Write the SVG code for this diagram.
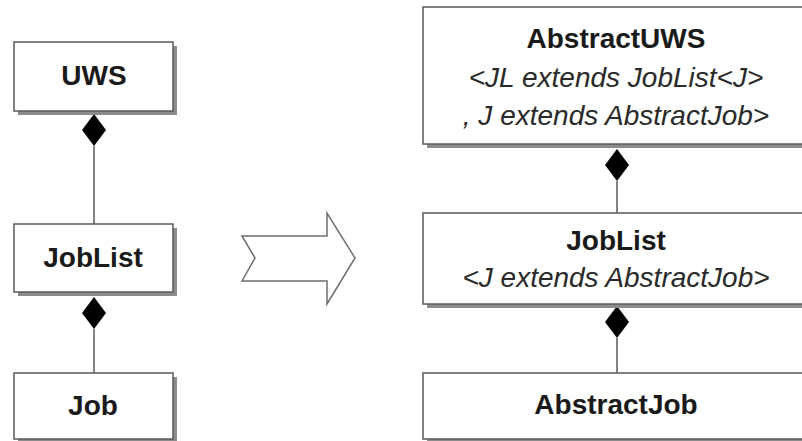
<svg xmlns="http://www.w3.org/2000/svg" width="802" height="441" viewBox="0 0 802 441">
  <defs>
    <style>
      .shadow { fill: #8c8c8c; }
      .box { fill: #ffffff; stroke: #5a5a5a; stroke-width: 1.5; }
      .name { font-family: "Liberation Sans", Arial, sans-serif; font-size: 28px; font-weight: bold; fill: #1a1a1a; text-anchor: middle; }
      .param { font-family: "Liberation Sans", Arial, sans-serif; font-size: 28px; font-style: italic; fill: #2a2a2a; text-anchor: middle; }
      .link { stroke: #5a5a5a; stroke-width: 1.5; fill: none; }
      .diamond { fill: #000000; }
      .transform { fill: #ffffff; stroke: #6e6e6e; stroke-width: 1.5; }
    </style>
  </defs>

  <rect width="802" height="441" fill="#ffffff"/>

  <!-- composition links -->
  <g id="connectors">
    <line class="link" x1="94" y1="146" x2="94" y2="224"/>
    <polygon class="diamond" points="94,114 106,130 94,146 82,130"/>
    <line class="link" x1="94" y1="329" x2="94" y2="373"/>
    <polygon class="diamond" points="94,297 106,313 94,329 82,313"/>

    <line class="link" x1="617" y1="181" x2="617" y2="213"/>
    <polygon class="diamond" points="617,149 629,165 617,181 605,165"/>
    <line class="link" x1="617" y1="338" x2="617" y2="373"/>
    <polygon class="diamond" points="617,306 629,322 617,338 605,322"/>
  </g>

  <!-- left: plain classes -->
  <g id="uws">
    <rect class="shadow" x="18" y="46" width="159" height="69"/>
    <rect class="box" x="14" y="42" width="159" height="69"/>
    <text class="name" x="94" y="85">UWS</text>
  </g>
  <g id="joblist">
    <rect class="shadow" x="18" y="228" width="159" height="68"/>
    <rect class="box" x="14" y="224" width="159" height="68"/>
    <text class="name" x="93" y="267">JobList</text>
  </g>
  <g id="job">
    <rect class="shadow" x="18" y="377" width="159" height="70"/>
    <rect class="box" x="14" y="373" width="159" height="66"/>
    <text class="name" x="93" y="415">Job</text>
  </g>

  <!-- block arrow between the two versions -->
  <g id="arrow">
    <polygon class="transform" points="242,236 255,258 242,281 327,281 327,304 355,258 327,213 327,236"/>
  </g>

  <!-- right: generic classes -->
  <g id="abstract-uws">
    <rect class="shadow" x="427" y="11" width="400" height="137"/>
    <rect class="box" x="423" y="7" width="400" height="137"/>
    <text class="name" x="616" y="48">AbstractUWS</text>
    <text class="param" x="616" y="87">&lt;JL extends JobList&lt;J&gt;</text>
    <text class="param" x="616" y="125">, J extends AbstractJob&gt;</text>
  </g>
  <g id="abstract-joblist">
    <rect class="shadow" x="427" y="217" width="400" height="91"/>
    <rect class="box" x="423" y="213" width="400" height="91"/>
    <text class="name" x="616" y="250">JobList</text>
    <text class="param" x="616" y="287">&lt;J extends AbstractJob&gt;</text>
  </g>
  <g id="abstract-job">
    <rect class="shadow" x="427" y="377" width="400" height="70"/>
    <rect class="box" x="423" y="373" width="400" height="66"/>
    <text class="name" x="616" y="414">AbstractJob</text>
  </g>
</svg>
